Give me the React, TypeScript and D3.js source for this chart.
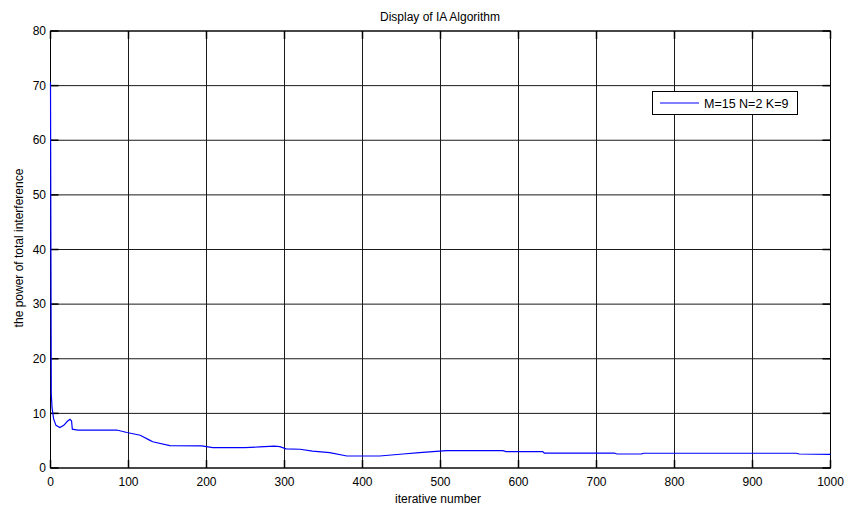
import React from "react";
import * as d3 from "d3";

const iterations = [0, 1, 2, 4, 7, 12, 17, 22, 25, 27, 28, 35, 85, 98, 115, 127, 131, 153, 194, 208, 249, 268, 287, 294, 302, 320, 336, 358, 380, 422, 452, 473, 490, 508, 580, 584, 631, 633, 723, 726, 758, 760, 956, 960, 1000];
const interference = [70.6, 13.5, 11, 9, 7.8, 7.4, 7.8, 8.6, 8.9, 8.6, 7.1, 6.95, 6.95, 6.5, 6.0, 5.1, 4.8, 4.1, 4.05, 3.72, 3.72, 3.85, 4.0, 3.9, 3.5, 3.43, 3.1, 2.8, 2.2, 2.2, 2.56, 2.8, 3.0, 3.17, 3.17, 3.0, 3.0, 2.74, 2.74, 2.56, 2.6, 2.7, 2.7, 2.56, 2.5];
const xTicks = [0, 100, 200, 300, 400, 500, 600, 700, 800, 900, 1000];
const yTicks = [0, 10, 20, 30, 40, 50, 60, 70, 80];
const seriesName = "M=15 N=2 K=9";
const title = "Display of IA Algorithm";
const xLabel = "iterative number";
const yLabel = "the power of total interference";

const W = 844, H = 507;
const L = 50.5, R = 830.5, T = 31, B = 468;
const FONT = "'Liberation Sans', Arial, Helvetica, sans-serif";

export default function App() {
  const x = d3.scaleLinear().domain([0, 1000]).range([L, R]);
  const y = d3.scaleLinear().domain([0, 80]).range([B, T]);
  const pts = iterations.map((it, i) => [it, interference[i]] as [number, number]);
  const line = d3.line<[number, number]>().x(d => x(d[0])).y(d => y(d[1]));
  const tick = 8;
  return (
    <svg width={W} height={H} style={{ position: "absolute", left: 0, top: 0, background: "#fff" }} fontFamily={FONT}>
      <rect x={0} y={0} width={W} height={H} fill="#fff" />
      <rect x={L} y={T} width={R - L} height={B - T} fill="#fff" />
      {/* grid */}
      {xTicks.map(t => (
        <line key={"gx" + t} x1={x(t)} x2={x(t)} y1={T} y2={B} stroke="#1a1a1a" strokeWidth={1} />
      ))}
      {yTicks.map(t => (
        <line key={"gy" + t} x1={L} x2={R} y1={y(t)} y2={y(t)} stroke="#1a1a1a" strokeWidth={1} />
      ))}
      {/* ticks */}
      {xTicks.map(t => (
        <g key={"tx" + t}>
          <line x1={x(t)} x2={x(t)} y1={B} y2={B - tick} stroke="#000" strokeWidth={1.5} />
          <line x1={x(t)} x2={x(t)} y1={T} y2={T + tick} stroke="#000" strokeWidth={1.5} />
          <text x={x(t)} y={486} textAnchor="middle" fontSize={12} fill="#000">{t}</text>
        </g>
      ))}
      {yTicks.map(t => (
        <g key={"ty" + t}>
          <line x1={L} x2={L + tick} y1={y(t)} y2={y(t)} stroke="#000" strokeWidth={1.5} />
          <line x1={R} x2={R - tick} y1={y(t)} y2={y(t)} stroke="#000" strokeWidth={1.5} />
          <text x={46} y={y(t) + 4.2} textAnchor="end" fontSize={12} fill="#000">{t}</text>
        </g>
      ))}
      <rect x={L} y={T} width={R - L} height={B - T} fill="none" stroke="#000" strokeWidth={1} />
      {/* data */}
      <path d={line(pts) || ""} fill="none" stroke="#0000ff" strokeWidth={1.2} />
      {/* legend */}
      <rect x={652.5} y={91.5} width={145} height={23} fill="#fff" stroke="#000" strokeWidth={1} />
      <line x1={660} x2={699} y1={103} y2={103} stroke="#0000ff" strokeWidth={1.2} />
      <text x={704} y={107.5} fontSize={12.5} fill="#000">{seriesName}</text>
      {/* titles */}
      <text x={440} y={21} textAnchor="middle" fontSize={12} fill="#000">{title}</text>
      <text x={438} y={503} textAnchor="middle" fontSize={12} fill="#000">{xLabel}</text>
      <text transform={`translate(23,248) rotate(-90)`} textAnchor="middle" fontSize={12} fill="#000">{yLabel}</text>
    </svg>
  );
}
